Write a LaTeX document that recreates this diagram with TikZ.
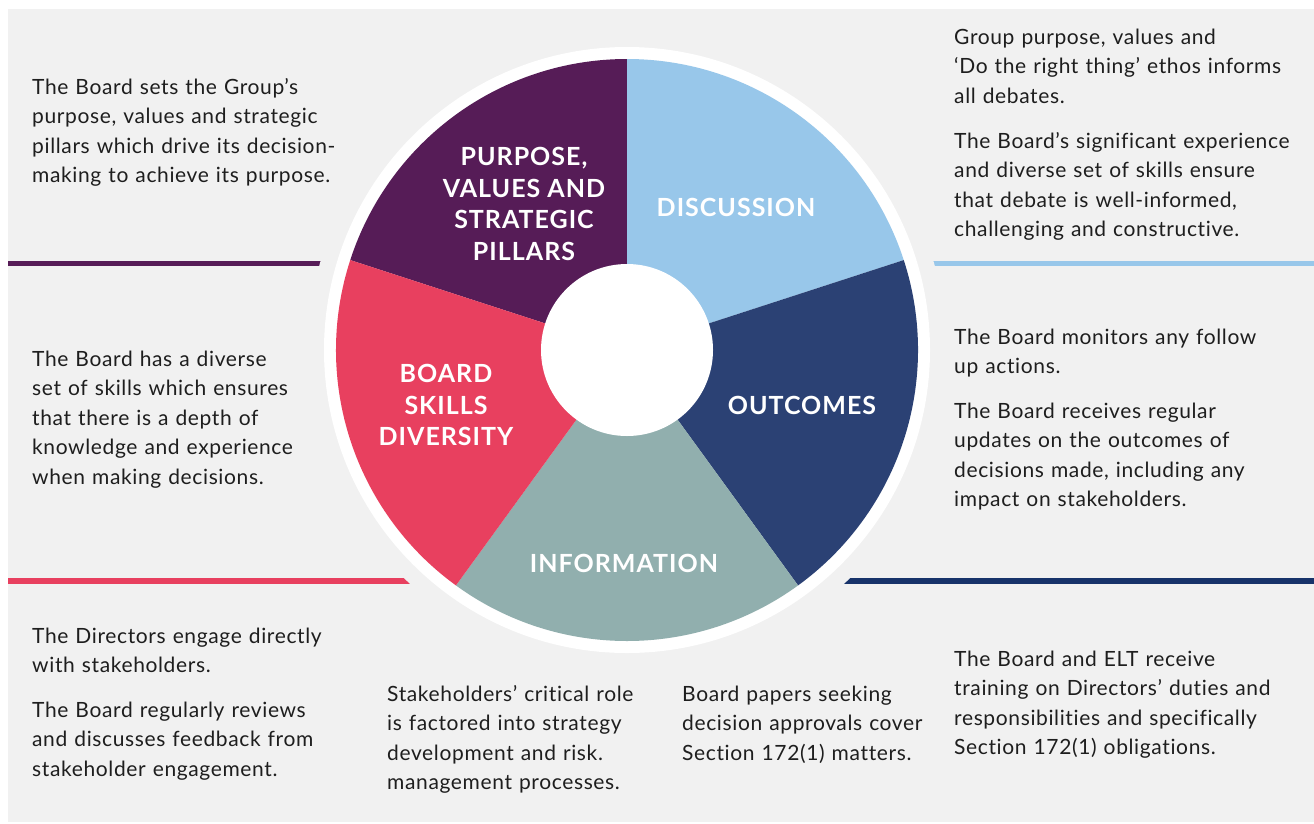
\documentclass[tikz,border=0pt]{standalone}
\usepackage{fontspec}
\setmainfont{Lato}[Ligatures=NoCommon,LetterSpace=3]
\newfontfamily\wheelfont[LetterSpace=4]{Lato}
\definecolor{bg}{HTML}{F1F1F1}
\definecolor{cpurple}{HTML}{561C57}
\definecolor{clblue}{HTML}{98C7EA}
\definecolor{cnavy}{HTML}{2B4174}
\definecolor{csage}{HTML}{91AFAE}
\definecolor{ccrimson}{HTML}{E8405F}
\definecolor{cnavyline}{HTML}{17336A}
\definecolor{ctext}{HTML}{1E1E1E}
\begin{document}
\begin{tikzpicture}[x=1pt,y=-1pt,
  body/.style={anchor=base west, inner sep=0pt, text width=400pt, align=left,
    font=\fontsize{21}{29.5}\selectfont, text=ctext},
  wlabel/.style={inner sep=0pt, align=center, text=white,
    font=\wheelfont\bfseries\fontsize{25}{31.5}\selectfont}]
\useasboundingbox (0,0) rectangle (1314,823);
\fill[white] (0,0) rectangle (1314,823);
\fill[bg] (8,9) rectangle (1314,822);
% divider lines
\fill[cpurple] (8,261) rectangle (627,266);
\fill[clblue] (627,261) rectangle (1314,266);
\fill[ccrimson] (8,578) rectangle (627,584);
\fill[cnavyline] (627,578) rectangle (1314,584);
\coordinate (C) at (627,350);
\fill[bg] (C) circle[radius=319pt];
\fill[white] (C) circle[radius=303pt];
% segments
\fill[cpurple] (C) -- ++(90:291pt) arc[start angle=90,end angle=162,radius=291pt] -- cycle;
\fill[clblue] (C) -- ++(18:291pt) arc[start angle=18,end angle=90,radius=291pt] -- cycle;
\fill[cnavy] (C) -- ++(-54:291pt) arc[start angle=-54,end angle=18,radius=291pt] -- cycle;
\fill[csage] (C) -- ++(-126:291pt) arc[start angle=-126,end angle=-54,radius=291pt] -- cycle;
\fill[ccrimson] (C) -- ++(162:291pt) arc[start angle=162,end angle=234,radius=291pt] -- cycle;
\fill[white] (C) circle[radius=86pt];
% wheel labels
\node[wlabel] (lpurpose) at (524,204) {PURPOSE,\\VALUES AND\\STRATEGIC\\PILLARS};
\node[wlabel] (ldisc) at (736,207) {DISCUSSION};
\node[wlabel] (lboard) at (446,405) {BOARD\\SKILLS\\DIVERSITY};
\node[wlabel] (lout) at (802,405) {OUTCOMES};
\node[wlabel] (linfo) at (624,563) {INFORMATION};
% texts
\node[body] (tl) at (32,94) {The Board sets the Group’s\\purpose, values and strategic\\pillars which drive its decision-\\making to achieve its purpose.};
\node[body] (tr1) at (954,44) {Group purpose, values and\\‘Do the right thing’ ethos informs\\all debates.};
\node[body] (tr2) at (954,148) {The Board’s significant experience\\and diverse set of skills ensure\\that debate is well-informed,\\challenging and constructive.};
\node[body] (ml) at (32,366) {The Board has a diverse\\set of skills which ensures\\that there is a depth of\\knowledge and experience\\when making decisions.};
\node[body] (mr1) at (954,344) {The Board monitors any follow\\up actions.};
\node[body] (mr2) at (954,418) {The Board receives regular\\updates on the outcomes of\\decisions made, including any\\impact on stakeholders.};
\node[body] (bl1) at (32,643) {The Directors engage directly\\with stakeholders.};
\node[body] (bl2) at (32,717) {The Board regularly reviews\\and discusses feedback from\\stakeholder engagement.};
\node[body] (bm1) at (387,701) {Stakeholders’ critical role\\is factored into strategy\\development and risk.\\management processes.};
\node[body] (bm2) at (682,701) {Board papers seeking\\decision approvals cover\\Section 172(1) matters.};
\node[body] (br) at (954,666) {The Board and ELT receive\\training on Directors’ duties and\\responsibilities and specifically\\Section 172(1) obligations.};
\end{tikzpicture}
\end{document}
